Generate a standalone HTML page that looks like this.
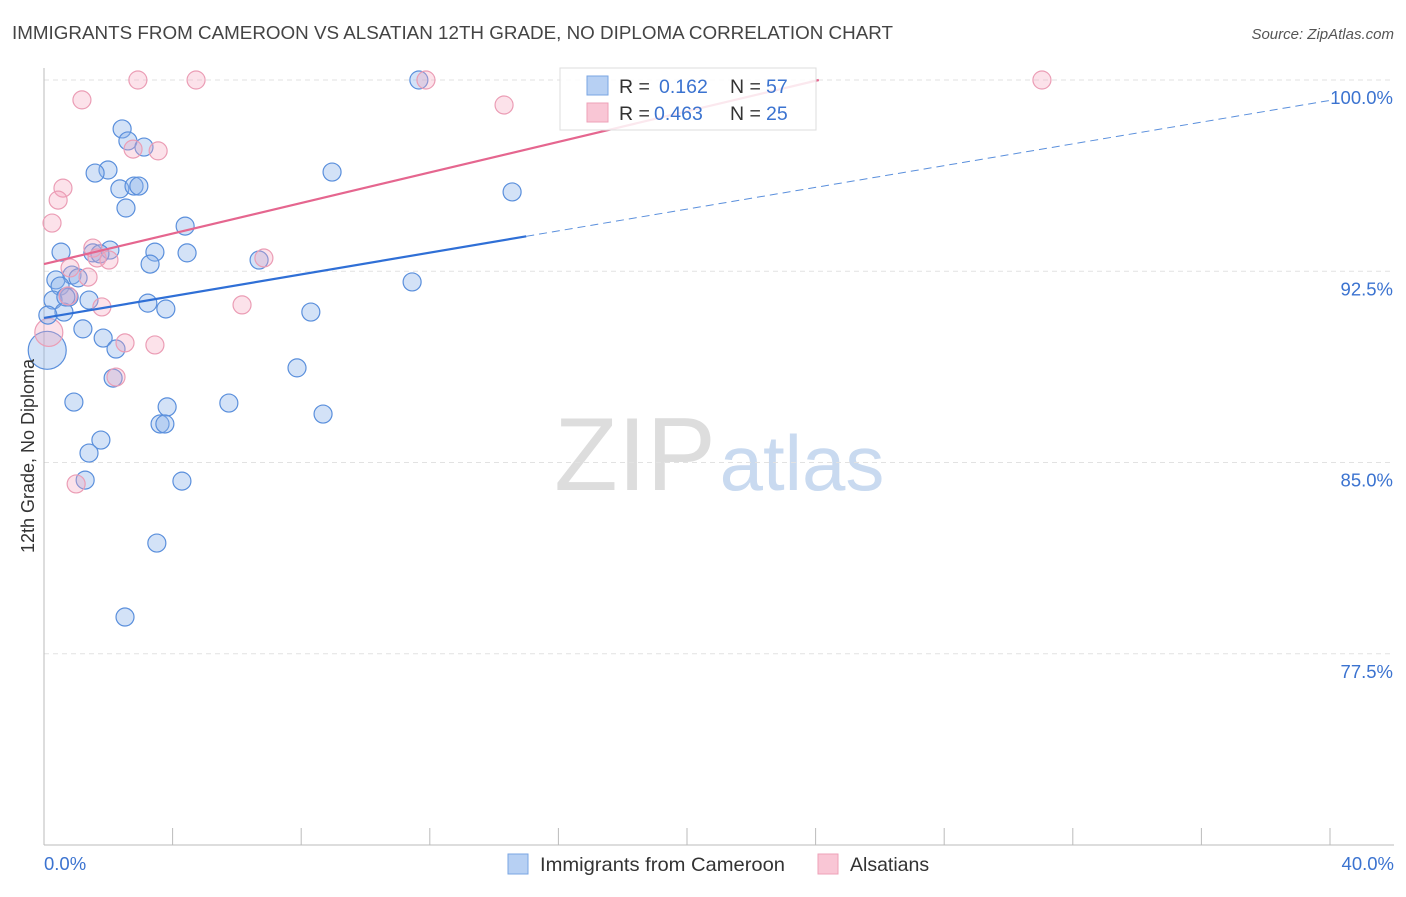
<!DOCTYPE html>
<html><head><meta charset="utf-8"><style>
body{margin:0;background:#fff;font-family:"Liberation Sans",sans-serif;}
svg text{font-family:"Liberation Sans",sans-serif;}
</style></head><body>
<svg id="chart" width="1406" height="892" xmlns="http://www.w3.org/2000/svg">
<text x="12" y="39" font-size="18.5" fill="#444" textLength="881" lengthAdjust="spacingAndGlyphs">IMMIGRANTS FROM CAMEROON VS ALSATIAN 12TH GRADE, NO DIPLOMA CORRELATION CHART</text>
<text x="1394" y="39" font-size="15" fill="#555" text-anchor="end" font-style="italic">Source: ZipAtlas.com</text>
<g>
<text x="635" y="490" font-size="104" fill="#ddd" text-anchor="middle" font-family="Liberation Serif">ZIP</text>
<text x="802" y="490" font-size="78" fill="#c9daf0" text-anchor="middle">atlas</text>
</g>
<g id="grid"></g>
<g id="axes"></g>
<g id="marks"></g>
<g>
<rect x="560" y="68" width="256" height="62" fill="rgba(255,255,255,0.85)" stroke="#ddd"/>
<rect x="587" y="76" width="21" height="19" fill="#b7d0f3" stroke="#7aa6e3"/>
<rect x="587" y="103" width="21" height="19" fill="#f9c6d5" stroke="#eea1b8"/>
<text x="619" y="93" font-size="19.5" fill="#333">R = </text><text x="659" y="93" font-size="19.5" fill="#3b73d0">0.162</text>
<text x="730" y="93" font-size="19.5" fill="#333">N = </text><text x="766" y="93" font-size="19.5" fill="#3b73d0">57</text>
<text x="619" y="120" font-size="19.5" fill="#333">R = </text><text x="654" y="120" font-size="19.5" fill="#3b73d0">0.463</text>
<text x="730" y="120" font-size="19.5" fill="#333">N = </text><text x="766" y="120" font-size="19.5" fill="#3b73d0">25</text>
</g>
<g>
<rect x="508" y="854" width="20" height="20" fill="#b7d0f3" stroke="#7aa6e3"/>
<text x="540" y="871" font-size="19.5" fill="#333" textLength="245" lengthAdjust="spacingAndGlyphs">Immigrants from Cameroon</text>
<rect x="818" y="854" width="20" height="20" fill="#f9c6d5" stroke="#eea1b8"/>
<text x="850" y="871" font-size="19.5" fill="#333">Alsatians</text>
</g>
<text transform="translate(34,456) rotate(-90)" font-size="18" fill="#333" text-anchor="middle">12th Grade, No Diploma</text>
</svg>
<script>
const yTicks=[100,92.5,85,77.5];
const yTickLabels=["100.0%","92.5%","85.0%","77.5%"];
const xLabels=["0.0%","40.0%"];
const blueX=[11.66,2.43,2.61,3.11,1.99,1.59,8.96,2.36,2.80,2.95,14.56,2.55,4.39,0.53,3.45,4.45,1.52,2.05,6.69,3.30,0.37,0.87,1.06,0.50,11.45,0.78,1.40,0.28,3.23,3.79,8.30,0.62,0.12,1.21,1.84,2.24,7.87,2.15,0.93,5.75,3.83,8.68,3.61,3.76,1.77,1.40,1.28,4.29,3.51,2.52,0.68,1.74];
const blueY=[100,98.08,97.61,97.37,96.47,96.35,96.39,95.73,95.84,95.84,95.61,94.98,94.27,93.25,93.25,93.22,93.22,93.33,92.94,92.78,92.16,92.35,92.24,91.92,92.08,91.49,91.37,91.37,91.25,91.02,90.90,90.90,90.78,90.24,89.88,89.45,88.71,88.31,87.37,87.33,87.18,86.90,86.51,86.51,85.88,85.37,84.31,84.27,81.84,78.94,91.49,93.18];
const pinkX=[2.92,4.73,11.88,31.04,1.18,14.31,2.77,3.55,0.59,0.44,0.25,1.52,1.65,2.02,6.84,0.81,1.37,1.80,6.16,2.52,3.45,2.24,1.00,0.75];
const pinkY=[100,100,100,100,99.22,99.02,97.29,97.22,95.76,95.29,94.39,93.41,93.02,92.94,93.02,92.63,92.27,91.10,91.18,89.69,89.61,88.35,84.16,91.53];
const bigBlue=[0.1,89.4];
const bigPink=[0.15,90.1];
const blueTrend=[0,90.67,15,93.87,40,99.2];
const pinkTrend=[0,92.78,24.1,100];
const X=v=>44+v*32.15, Y=v=>80+(100-v)*25.5;
const NS="http://www.w3.org/2000/svg";
function mk(tag,attrs,parent){const e=document.createElementNS(NS,tag);for(const k in attrs)e.setAttribute(k,attrs[k]);document.getElementById(parent).appendChild(e);return e;}
yTicks.forEach((t,i)=>{
 const l=mk('line',{x1:44,x2:1394,y1:Y(t),y2:Y(t),stroke:'#e2e2e2','stroke-dasharray':'5,4'},'grid');
 
 
 const tx=mk('text',{x:1393,y:Y(t)+24,'font-size':18.5,fill:'#3b73d0','text-anchor':'end'},'grid');
 tx.textContent=yTickLabels[i];
 
 
});
const ax=mk('line',{x1:44,x2:44,y1:68,y2:845,stroke:'#bbb'},'axes');


const bx=mk('line',{x1:44,x2:1394,y1:845,y2:845,stroke:'#bbb'},'axes');


for(let i=0;i<=10;i++){const t=mk('line',{x1:X(i*4),x2:X(i*4),y1:828,y2:845,stroke:'#bbb'},'axes');
 
 }
const xl0=mk('text',{x:44,y:870,'font-size':18.5,fill:'#3b73d0'},'axes');xl0.textContent=xLabels[0];


const xl1=mk('text',{x:1394,y:870,'font-size':18.5,fill:'#3b73d0','text-anchor':'end'},'axes');xl1.textContent=xLabels[1];


function dot(x,y,r,c,name){const d=mk('circle',{cx:X(x),cy:Y(y),r:r,fill:c[0],stroke:c[1],'stroke-width':1.2},'marks');
 
 }
const BC=['rgba(140,180,235,0.38)','#5a8fdc'],PC=['rgba(245,165,190,0.32)','#eb9db5'];
dot(bigBlue[0],bigBlue[1],19,BC,'cameroon-point');
dot(bigPink[0],bigPink[1],14,PC,'alsatian-point');
blueX.forEach((x,i)=>dot(x,blueY[i],9,BC,'cameroon-point'));
pinkX.forEach((x,i)=>dot(x,pinkY[i],9,PC,'alsatian-point'));
const b1=mk('line',{x1:X(blueTrend[0]),y1:Y(blueTrend[1]),x2:X(blueTrend[2]),y2:Y(blueTrend[3]),stroke:'#2f6fd6','stroke-width':2.2},'marks');


const b2=mk('line',{x1:X(blueTrend[2]),y1:Y(blueTrend[3]),x2:X(blueTrend[4]),y2:Y(blueTrend[5]),stroke:'#5a8fdc','stroke-width':1,'stroke-dasharray':'8,5'},'marks');


const p1=mk('line',{x1:X(pinkTrend[0]),y1:Y(pinkTrend[1]),x2:X(pinkTrend[2]),y2:Y(pinkTrend[3]),stroke:'#e5668f','stroke-width':2.2},'marks');


</script>
</body></html>
